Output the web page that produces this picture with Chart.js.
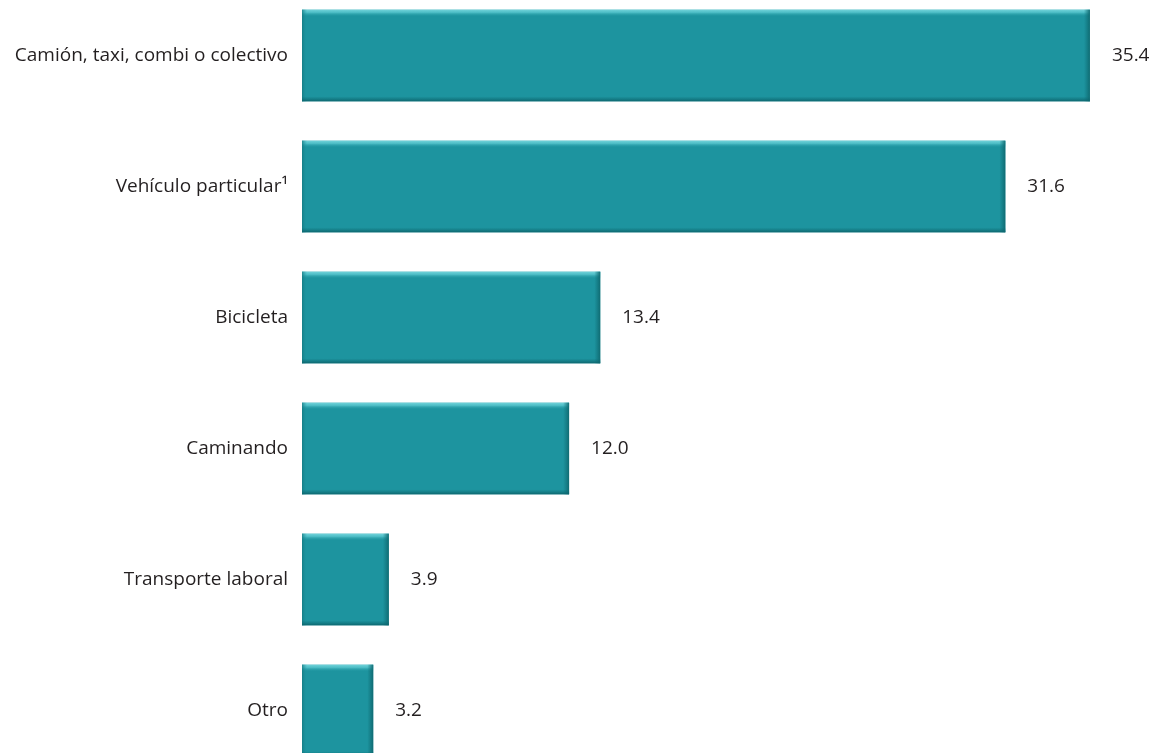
<!DOCTYPE html>
<html>
<head>
<meta charset="utf-8">
<script src="https://cdn.jsdelivr.net/npm/chart.js@4"></script>
<style>
  html, body { margin: 0; padding: 0; background: #fff; overflow: hidden; }
  #wrap { position: absolute; left: 0; top: -10px; width: 1150px; height: 786px; }
</style>
</head>
<body>
<div id="wrap"><canvas id="modeChart"></canvas></div>
<script>
// Medio de transporte (porcentaje)
const categories = [
    "Camión, taxi, combi o colectivo",
    "Vehículo particular¹",
    "Bicicleta",
    "Caminando",
    "Transporte laboral",
    "Otro"
];
const values = [35.4, 31.6, 13.4, 12.0, 3.9, 3.2];
const valueLabels = ["35.4", "31.6", "13.4", "12.0", "3.9", "3.2"];

// value text to the right of every bar
const valueLabelPlugin = {
    id: "valueLabels",
    afterDatasetsDraw(chart) {
        const c = chart.ctx;
        const meta = chart.getDatasetMeta(0);
        c.save();
        c.font = "19px 'Open Sans', sans-serif";
        c.fillStyle = "#231f20";
        c.textAlign = "left";
        c.textBaseline = "middle";
        meta.data.forEach(function (bar, i) {
            c.fillText(valueLabels[i], bar.x + 22, bar.y);
        });
        c.restore();
    }
};

// beveled edges like the original graphic
const bevelPlugin = {
    id: "bevel",
    afterDatasetsDraw(chart) {
        const c = chart.ctx;
        const meta = chart.getDatasetMeta(0);
        c.save();
        meta.data.forEach(function (bar) {
            const left = bar.base, right = bar.x;
            const top = bar.y - bar.height / 2, bottom = bar.y + bar.height / 2;
            const w = right - left, h = bottom - top;
            // top highlight
            let g = c.createLinearGradient(0, top, 0, top + 7);
            g.addColorStop(0, "rgba(120,215,222,0.95)");
            g.addColorStop(0.4, "rgba(90,200,208,0.8)");
            g.addColorStop(1, "rgba(30,150,160,0)");
            c.fillStyle = g;
            c.fillRect(left, top, w, 7);
            // left edge
            g = c.createLinearGradient(left, 0, left + 5, 0);
            g.addColorStop(0, "rgba(20,120,128,0.8)");
            g.addColorStop(1, "rgba(30,150,160,0)");
            c.fillStyle = g;
            c.fillRect(left, top, 5, h);
            // right edge
            g = c.createLinearGradient(right - 6, 0, right, 0);
            g.addColorStop(0, "rgba(15,110,118,0)");
            g.addColorStop(1, "rgba(15,105,112,0.95)");
            c.fillStyle = g;
            c.fillRect(right - 6, top, 6, h);
            // bottom edge
            g = c.createLinearGradient(0, bottom - 5, 0, bottom);
            g.addColorStop(0, "rgba(15,110,118,0)");
            g.addColorStop(1, "rgba(12,100,108,0.95)");
            c.fillStyle = g;
            c.fillRect(left, bottom - 5, w, 5);
        });
        c.restore();
    }
};

document.addEventListener("DOMContentLoaded", function () {
    const ctx = document.getElementById("modeChart");
    if (!ctx) return;

    new Chart(ctx, {
        type: "bar",
        data: {
            labels: categories,
            datasets: [{
                data: values,
                backgroundColor: "#1d949f",
                borderWidth: 0,
                categoryPercentage: 1.0,
                barPercentage: 0.70
            }]
        },
        plugins: [bevelPlugin, valueLabelPlugin],
        options: {
            indexAxis: "y",
            responsive: true,
            maintainAspectRatio: false,
            animation: false,
            layout: { padding: 0 },
            plugins: {
                legend: { display: false },
                tooltip: { enabled: false }
            },
            scales: {
                x: {
                    display: false,
                    min: 0,
                    max: 38.1
                },
                y: {
                    grid: { display: false, drawTicks: false },
                    border: { display: false },
                    ticks: {
                        color: "#231f20",
                        padding: 14,
                        font: { family: "'Open Sans', sans-serif", size: 19 }
                    },
                    afterFit: function (scale) {
                        scale.width = 302;
                        scale.paddingTop = 0;
                        scale.paddingBottom = 0;
                    }
                }
            }
        }
    });
});
</script>
</body>
</html>
